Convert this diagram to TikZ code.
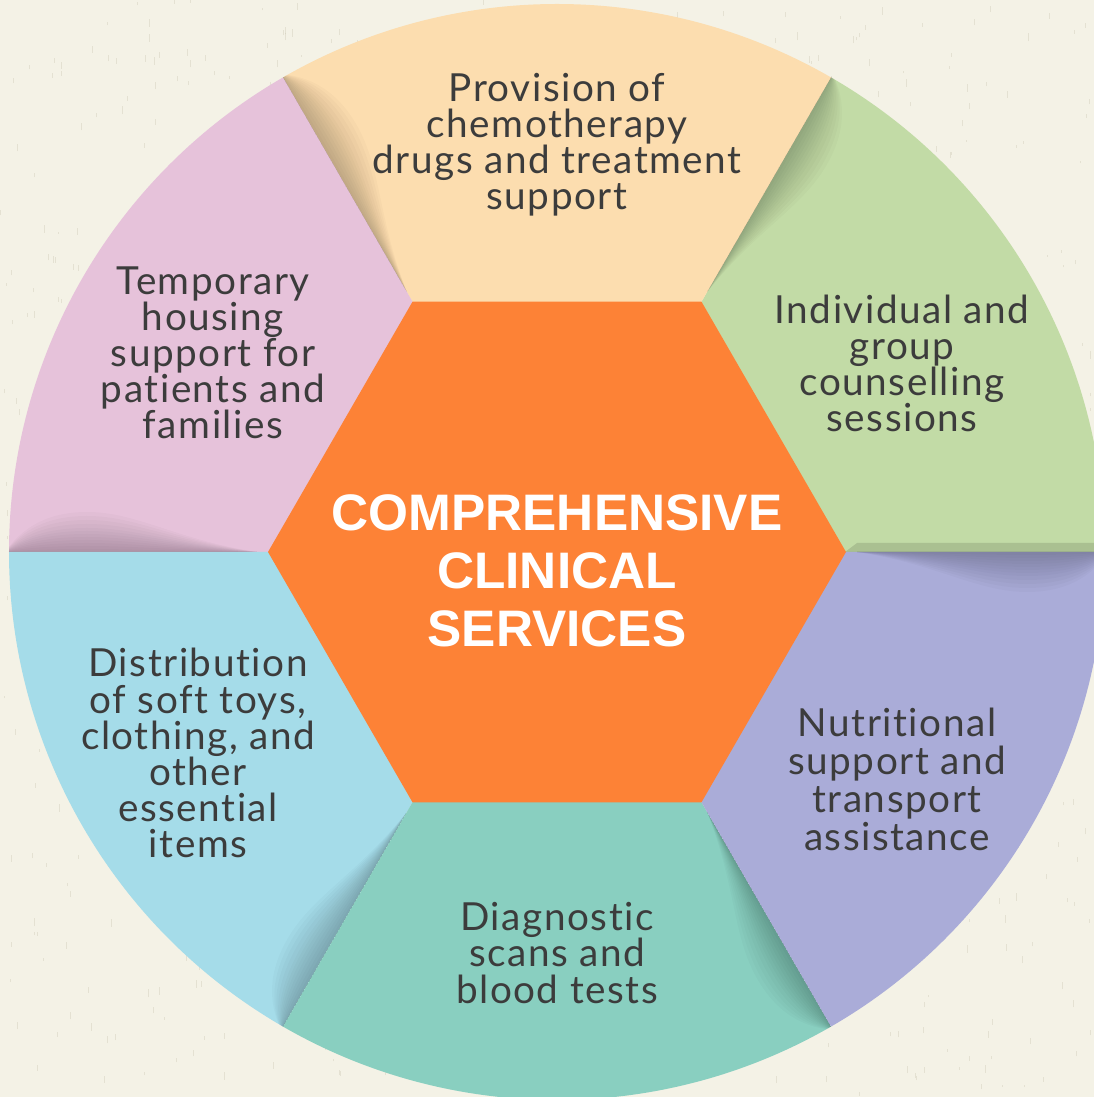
\documentclass[tikz,border=0pt]{standalone}
\usepackage{fontspec}
\setmainfont{Lato}[LetterSpace=4, Ligatures=CommonOff]
\newfontfamily\ctrfont{Liberation Sans}
\definecolor{bgc}{HTML}{F4F2E6}
\definecolor{speck}{HTML}{C9C4AE}
\definecolor{cyellow}{HTML}{FCDDAF}
\definecolor{cpink}{HTML}{E6C2DA}
\definecolor{cgreen}{HTML}{C2DBA6}
\definecolor{cpurple}{HTML}{AAACD8}
\definecolor{cteal}{HTML}{89CFC0}
\definecolor{cblue}{HTML}{A5DCE9}
\definecolor{corange}{HTML}{FD8236}
\definecolor{ctext}{HTML}{3C3C3C}
\tikzset{
  lbl/.style={align=center, text=ctext, inner sep=0pt, font=\fontsize{11}{10.25}\selectfont},
  ctrlbl/.style={align=center, text=white, inner sep=0pt, font=\ctrfont\bfseries\fontsize{14.6}{16.5}\selectfont},
  shadowlayer/.style={fill=black, opacity=0.02}
}
\begin{document}
\begin{tikzpicture}[x=0.01cm,y=0.01cm]
\useasboundingbox (0,0) rectangle (1094,1097);
\fill[bgc] (0,0) rectangle (1094,1097);
% canvas texture
\pgfmathsetseed{12}
\foreach \i in {1,...,900} {
  \pgfmathsetmacro\rx{rnd*1094}
  \pgfmathsetmacro\ry{rnd*1097}
  \pgfmathsetmacro\rl{2+rnd*6}
  \draw[speck, opacity=0.35, line width=0.25pt] (\rx,\ry) -- ++(0,\rl);
}
\coordinate (C) at (557,545);
\begin{scope}
\clip (0,0) rectangle (1094,1097);
% sectors
\foreach \a/\col in {0/cgreen,60/cyellow,120/cpink,180/cblue,240/cteal,300/cpurple} {
  \begin{scope}[shift={(557,545)}, rotate=\a]
    \fill[\col] (0:288) -- (0:548) arc[start angle=0, end angle=60, radius=548] -- (60:288) -- cycle;
  \end{scope}
}
% shadows on the clockwise side of each boundary
\foreach \a in {0,60,120,180,240,300} {
  \begin{scope}[shift={(557,545)}, rotate=\a]
    \clip (0,0) -- (0:600) arc[start angle=0, end angle=-60, radius=600] -- cycle;
    \clip (0,0) circle[radius=548];
    \foreach \w in {3,6,9,12,15,18,21,24,28,32,36,40} {
      \fill[shadowlayer] (300,0) .. controls (380,-0.3*\w) and (420,-\w) .. (470,-\w)
        .. controls (510,-\w) and (535,-0.6*\w) .. (552,0) -- cycle;
    }
  \end{scope}
}
% thin band on the green side of the right boundary
\begin{scope}[shift={(557,545)}]
  \clip (0,0) circle[radius=548];
  \fill[black, opacity=0.12] (288,0) -- (548,0) -- (548,9) -- (300,9) -- cycle;
\end{scope}
% central hexagon
\fill[corange] (C) ++(0:289) -- ++(120:289) -- ++(180:289) -- ++(240:289) -- ++(300:289) -- ++(0:289) -- cycle;
\end{scope}
% labels
\node[lbl] (top) at (557,952) {Provision of\\chemotherapy\\drugs and treatment\\support};
\node[lbl] (ul) at (213,744) {Temporary\\housing\\support for\\patients and\\families};
\node[lbl] (ur) at (902,734) {Individual and\\group\\counselling\\sessions};
\node[lbl] (ll) at (198,344) {Distribution\\of soft toys,\\clothing, and\\other\\essential\\items};
\node[lbl, font=\fontsize{11}{10.8}\selectfont] (lr) at (897,318) {Nutritional\\support and\\transport\\assistance};
\node[lbl] (bot) at (557,144) {Diagnostic\\scans and\\blood tests};
\node[ctrlbl] (ctr) at (557,526) {COMPREHENSIVE\\CLINICAL\\SERVICES};
\end{tikzpicture}
\end{document}
